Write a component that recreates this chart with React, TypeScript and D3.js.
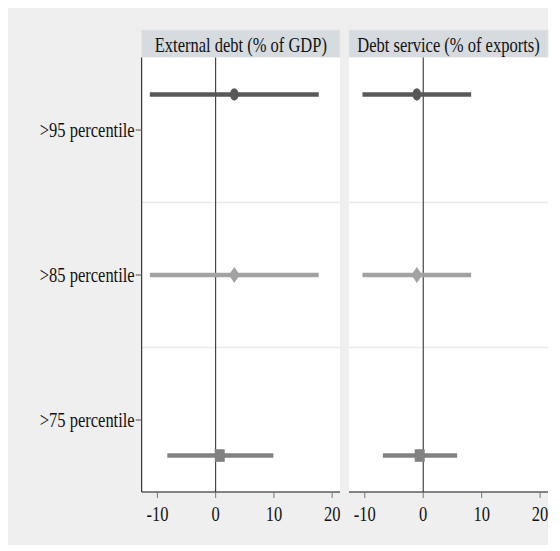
import * as d3 from "d3";

const rows = [">95 percentile", ">85 percentile", ">75 percentile"];
const panelTitles = ["External debt (% of GDP)", "Debt service (% of exports)"];
const xTicks = [-10, 0, 10, 20];

// estimates and 95% bounds, one entry per row
const debtEst = [3.2, 3.2, 0.7];
const debtLo = [-11.3, -11.3, -8.3];
const debtHi = [17.7, 17.7, 9.9];
const serviceEst = [-1.1, -1.1, -0.6];
const serviceLo = [-10.4, -10.4, -6.9];
const serviceHi = [8.2, 8.2, 5.8];

const seriesColors = ["#585858", "#a2a2a2", "#818181"];
const seriesOffset = [-0.245, 0, 0.245];
const seriesShape = ["circle", "diamond", "square"];

const W = 560, H = 551;
const top = 57.5, bottom = 492;
const panelX = [[141.7, 340], [349, 548]];
const FONT = "'Liberation Serif', 'Times New Roman', serif";
const SX = 0.75;

function SText(props: any) {
  const { x, y, anchor, size, children } = props;
  return (
    <text transform={`translate(${x},${y}) scale(${SX},1)`} textAnchor={anchor || "middle"}
      fontFamily={FONT} fontSize={size || 22} fill="#111">{children}</text>
  );
}

function Marker(props: any) {
  const { shape, cx, cy, color } = props;
  if (shape === "circle") return <ellipse cx={cx} cy={cy} rx={4.3} ry={6.2} fill={color} />;
  if (shape === "diamond")
    return <path d={`M${cx},${cy - 8}L${cx + 5.5},${cy}L${cx},${cy + 8}L${cx - 5.5},${cy}Z`} fill={color} />;
  return <rect x={cx - 5} y={cy - 6.3} width={10} height={12.6} fill={color} />;
}

export default function App() {
  const y = d3.scaleBand().domain(rows).range([top, bottom + 0.5]);
  const bw = y.bandwidth();
  const panelData = [
    { est: debtEst, lo: debtLo, hi: debtHi },
    { est: serviceEst, lo: serviceLo, hi: serviceHi },
  ];

  return (
    <svg width={W} height={H} style={{ position: "absolute", left: 0, top: 0, display: "block" }}>
      <rect x={8} y={8} width={540} height={537} fill="#efefef" />
      {panelTitles.map((title, pi) => {
        const [x0, x1] = panelX[pi];
        const x = d3.scaleLinear().domain([-12.7, 21.35]).range([x0, x1]);
        const d = panelData[pi];
        return (
          <g key={title}>
            <rect x={x0} y={30} width={x1 - x0} height={27.5} fill="#d6dbe0" stroke="#e3e7eb" strokeWidth={1} />
            <SText x={(x0 + x1) / 2} y={51.5}>{title}</SText>
            <rect x={x0} y={top} width={x1 - x0} height={bottom - top} fill="#ffffff" />
            {rows.slice(1).map((r) => (
              <line key={r} x1={x0} x2={x1} y1={y(r)} y2={y(r)} stroke="#ebebeb" strokeWidth={1.5} />
            ))}
            <line x1={x(0)} x2={x(0)} y1={top} y2={bottom} stroke="#222" strokeWidth={1} />
            {rows.map((r, i) => {
              const cy = (y(r) as number) + bw / 2 + seriesOffset[i] * bw;
              return (
                <g key={r}>
                  <line x1={x(d.lo[i])} x2={x(d.hi[i])} y1={cy} y2={cy} stroke={seriesColors[i]} strokeWidth={4.5} />
                  <Marker shape={seriesShape[i]} cx={x(d.est[i])} cy={cy} color={seriesColors[i]} />
                </g>
              );
            })}
            <line x1={x0} x2={x1} y1={bottom} y2={bottom} stroke="#111" strokeWidth={1} />
            {xTicks.map((t) => (
              <g key={t}>
                <line x1={x(t)} x2={x(t)} y1={bottom} y2={bottom + 6} stroke="#777" strokeWidth={1} />
                <SText x={x(t)} y={521}>{t}</SText>
              </g>
            ))}
            {pi === 0 && (
              <g>
                <line x1={x0} x2={x0} y1={top} y2={bottom} stroke="#111" strokeWidth={1} />
                {rows.map((r) => {
                  const cy = (y(r) as number) + bw / 2;
                  return (
                    <g key={r}>
                      <line x1={x0 - 6} x2={x0} y1={cy} y2={cy} stroke="#555" strokeWidth={1} />
                      <SText x={x0 - 7} y={cy + 7} anchor="end">{r}</SText>
                    </g>
                  );
                })}
              </g>
            )}
          </g>
        );
      })}
    </svg>
  );
}
